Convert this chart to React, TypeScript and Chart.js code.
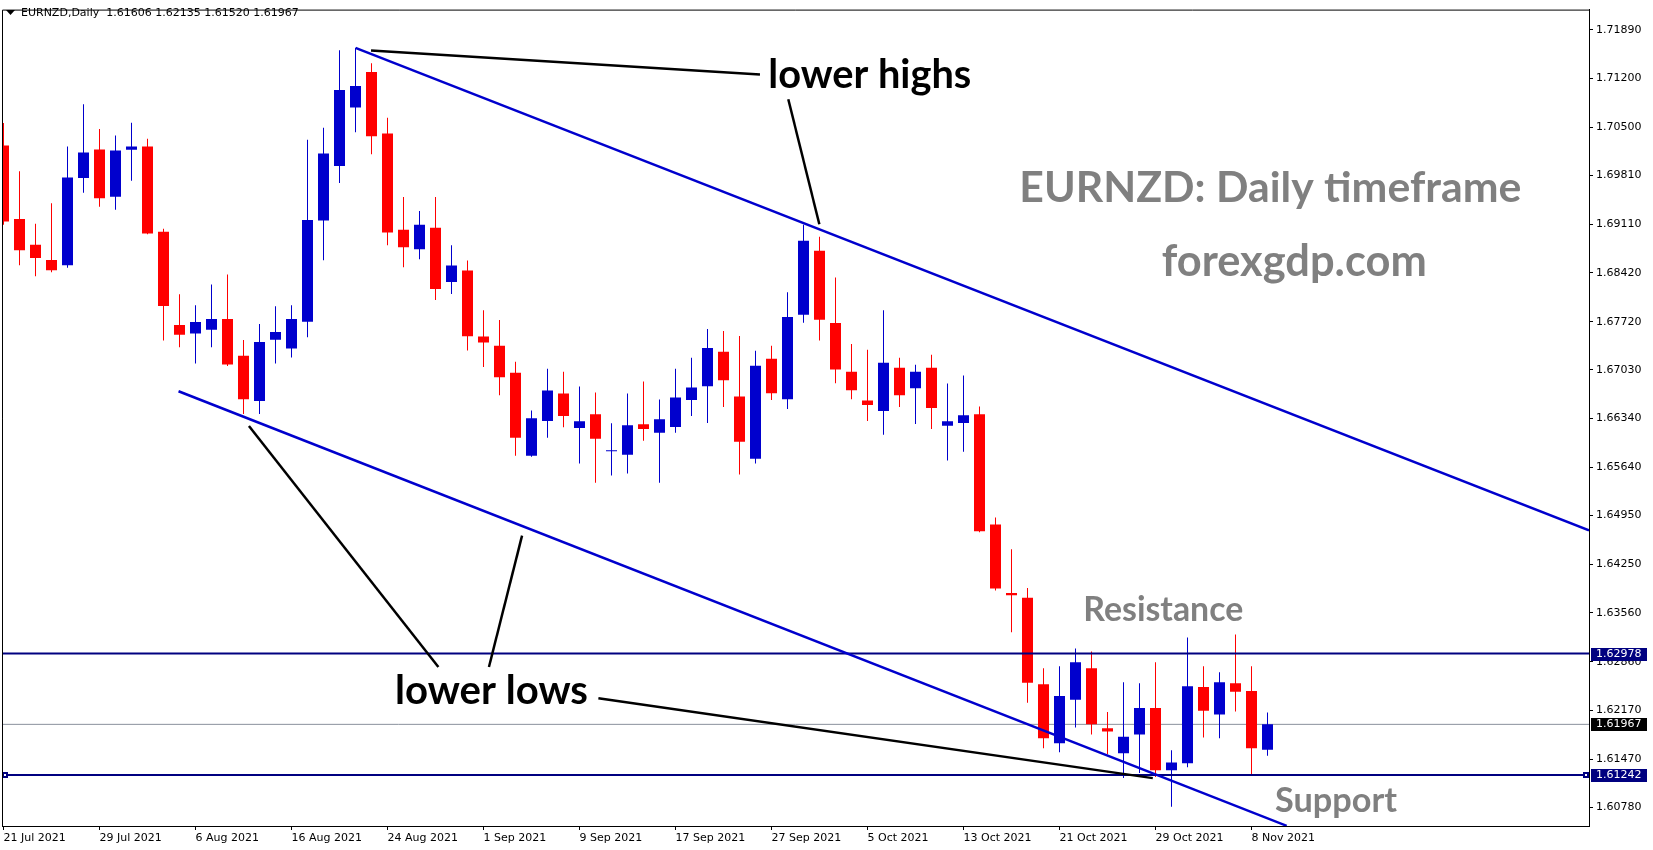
import React, { useEffect, useRef } from "react";
import { Chart, registerables } from "chart.js";

Chart.register(...registerables);

// ---------------- data ----------------
const symbol = "EURNZD";
const timeframe = "Daily";

const dates = [
  "21 Jul 2021", "22 Jul 2021", "23 Jul 2021", "26 Jul 2021", "27 Jul 2021", "28 Jul 2021", "29 Jul 2021", "30 Jul 2021",
  "2 Aug 2021", "3 Aug 2021", "4 Aug 2021", "5 Aug 2021", "6 Aug 2021", "9 Aug 2021", "10 Aug 2021", "11 Aug 2021",
  "12 Aug 2021", "13 Aug 2021", "16 Aug 2021", "17 Aug 2021", "18 Aug 2021", "19 Aug 2021", "20 Aug 2021", "23 Aug 2021",
  "24 Aug 2021", "25 Aug 2021", "26 Aug 2021", "27 Aug 2021", "30 Aug 2021", "31 Aug 2021", "1 Sep 2021", "2 Sep 2021",
  "3 Sep 2021", "6 Sep 2021", "7 Sep 2021", "8 Sep 2021", "9 Sep 2021", "10 Sep 2021", "13 Sep 2021", "14 Sep 2021",
  "15 Sep 2021", "16 Sep 2021", "17 Sep 2021", "20 Sep 2021", "21 Sep 2021", "22 Sep 2021", "23 Sep 2021", "24 Sep 2021",
  "27 Sep 2021", "28 Sep 2021", "29 Sep 2021", "30 Sep 2021", "1 Oct 2021", "4 Oct 2021", "5 Oct 2021", "6 Oct 2021",
  "7 Oct 2021", "8 Oct 2021", "11 Oct 2021", "12 Oct 2021", "13 Oct 2021", "14 Oct 2021", "15 Oct 2021", "18 Oct 2021",
  "19 Oct 2021", "20 Oct 2021", "21 Oct 2021", "22 Oct 2021", "25 Oct 2021", "26 Oct 2021", "27 Oct 2021", "28 Oct 2021",
  "29 Oct 2021", "1 Nov 2021", "2 Nov 2021", "3 Nov 2021", "4 Nov 2021", "5 Nov 2021", "8 Nov 2021", "9 Nov 2021",
];

const openP = [
  1.70236, 1.69188, 1.68819, 1.68602, 1.68526, 1.69773, 1.70180, 1.69504, 1.70175, 1.70222,
  1.69003, 1.67671, 1.67549, 1.67605, 1.67756, 1.67232, 1.66585, 1.67463, 1.67336, 1.67719,
  1.69164, 1.69943, 1.70780, 1.71285, 1.70406, 1.69032, 1.68753, 1.69060, 1.68285, 1.68451,
  1.67506, 1.67374, 1.66991, 1.65805, 1.66301, 1.66694, 1.66202, 1.66396, 1.65867, 1.65820,
  1.66254, 1.66131, 1.66216, 1.66599, 1.66797, 1.67289, 1.66651, 1.65763, 1.67190, 1.66613,
  1.67818, 1.68734, 1.67700, 1.67005, 1.66594, 1.66443, 1.67062, 1.66769, 1.67062, 1.66231,
  1.66273, 1.66396, 1.64823, 1.63845, 1.63774, 1.62541, 1.61696, 1.62319, 1.62768, 1.61913,
  1.61554, 1.61823, 1.62201, 1.61313, 1.61412, 1.62499, 1.62107, 1.62556, 1.62442, 1.61606,
];

const highP = [
  1.70558, 1.69868, 1.69117, 1.69410, 1.70222, 1.70827, 1.70472, 1.70378, 1.70562, 1.70331,
  1.69046, 1.68111, 1.67955, 1.68252, 1.68394, 1.67459, 1.67685, 1.67941, 1.67955, 1.70317,
  1.70491, 1.71597, 1.71630, 1.71412, 1.70633, 1.69499, 1.69301, 1.69499, 1.68810, 1.68592,
  1.67884, 1.67742, 1.67147, 1.66452, 1.67048, 1.67005, 1.66793, 1.66708, 1.66268, 1.66694,
  1.66864, 1.66608, 1.67048, 1.67204, 1.67615, 1.67586, 1.67515, 1.67303, 1.67374, 1.68139,
  1.69103, 1.68933, 1.68352, 1.67402, 1.67317, 1.67884, 1.67204, 1.67104, 1.67246, 1.66835,
  1.66949, 1.66509, 1.64922, 1.64469, 1.63916, 1.62768, 1.62796, 1.63052, 1.63009, 1.62144,
  1.62570, 1.62556, 1.62853, 1.61597, 1.63207, 1.62796, 1.62711, 1.63250, 1.62796, 1.62135,
];

const lowP = [
  1.69103, 1.68526, 1.68370, 1.68427, 1.68489, 1.69561, 1.69362, 1.69320, 1.69731, 1.68970,
  1.67449, 1.67355, 1.67123, 1.67355, 1.67086, 1.66401, 1.66401, 1.67123, 1.67208, 1.67497,
  1.68597, 1.69702, 1.70425, 1.70113, 1.68810, 1.68498, 1.68611, 1.68030, 1.68115, 1.67308,
  1.67071, 1.66670, 1.65805, 1.65790, 1.66060, 1.66212, 1.65692, 1.65418, 1.65522, 1.65550,
  1.66018, 1.65418, 1.66131, 1.66372, 1.66273, 1.66500, 1.65536, 1.65692, 1.66599, 1.66472,
  1.67704, 1.67449, 1.66840, 1.66613, 1.66301, 1.66103, 1.66500, 1.66259, 1.66188, 1.65735,
  1.65862, 1.64710, 1.63878, 1.63283, 1.62277, 1.61625, 1.61568, 1.61922, 1.61823, 1.61540,
  1.61200, 1.61271, 1.61214, 1.60789, 1.61356, 1.61781, 1.61767, 1.62149, 1.61256, 1.61520,
];

const closeP = [
  1.69150, 1.68739, 1.68630, 1.68455, 1.69778, 1.70137, 1.69481, 1.70165, 1.70222, 1.68980,
  1.67945, 1.67534, 1.67714, 1.67756, 1.67109, 1.66613, 1.67430, 1.67572, 1.67756, 1.69173,
  1.70123, 1.71030, 1.71087, 1.70369, 1.68994, 1.68781, 1.69103, 1.68186, 1.68522, 1.67511,
  1.67421, 1.66925, 1.66060, 1.66339, 1.66736, 1.66372, 1.66297, 1.66046, 1.65876, 1.66240,
  1.66188, 1.66325, 1.66637, 1.66779, 1.67345, 1.66882, 1.66004, 1.67090, 1.66698, 1.67785,
  1.68876, 1.67747, 1.67038, 1.66741, 1.66528, 1.67133, 1.66670, 1.67005, 1.66486, 1.66297,
  1.66382, 1.64724, 1.63907, 1.63812, 1.62560, 1.61767, 1.62371, 1.62853, 1.61970, 1.61866,
  1.61790, 1.62201, 1.61313, 1.61422, 1.62513, 1.62163, 1.62570, 1.62433, 1.61625, 1.61967,
];

// axis ticks
const yTickValues = [
  1.71890, 1.71200, 1.70500, 1.69810, 1.69110, 1.68420, 1.67720, 1.67030, 1.66340,
  1.65640, 1.64950, 1.64250, 1.63560, 1.62860, 1.62170, 1.61470, 1.60780,
];
const xTickIndex = [0, 6, 12, 18, 24, 30, 36, 42, 48, 54, 60, 66, 72, 78];

// horizontal levels
const resistanceLevel = 1.62978;
const supportLevel = 1.61242;
const bidLevel = 1.61967;

// channel trend lines (bar index, price)
const upperChannel = [
  { x: 22, y: 1.71630 },
  { x: 99.09, y: 1.64738 },
];
const lowerChannel = [
  { x: 10.94, y: 1.66726 },
  { x: 80.2, y: 1.60518 },
];

// pointer lines (bar index, price)
const pointerHighs1 = [{ x: 22.97, y: 1.71592 }, { x: 47.28, y: 1.71252 }];
const pointerHighs2 = [{ x: 49.05, y: 1.70898 }, { x: 50.99, y: 1.69112 }];
const pointerLows1 = [{ x: 15.34, y: 1.66230 }, { x: 27.18, y: 1.62787 }];
const pointerLows2 = [{ x: 32.41, y: 1.64663 }, { x: 30.34, y: 1.62787 }];
const pointerLows3 = [{ x: 37.18, y: 1.62339 }, { x: 71.83, y: 1.61199 }];

// text notes (left x in bar index, baseline in price)
const noteTexts = ["lower highs", "lower lows", "EURNZD: Daily timeframe", "forexgdp.com", "Resistance", "Support"];
const noteX = [47.80, 24.47, 63.49, 72.39, 67.49, 79.47];
const noteY = [1.71062, 1.62262, 1.69433, 1.68370, 1.63444, 1.60718];

// ---------------- style / layout ----------------
const W = 1653;
const H = 850;
const X_MIN = -0.09375;
const X_MAX = 99.09375;
const Y_MIN = 1.60515;
const Y_MAX = 1.721777;
const BULL = "#0000CD";
const BEAR = "#FF0000";
const NAVY = "#000080";
const AXIS_FONT = { family: "'DejaVu Sans', Tahoma, sans-serif", size: 11 };
const CANVAS_AXIS_FONT = '11px "DejaVu Sans", sans-serif';
const NOTE_WIDTHS = [203, 193, 502, 265, 160, 122];
const NOTE_COLORS = ["#000000", "#000000", "#808080", "#808080", "#808080", "#808080"];

function lineDs(points: { x: number; y: number }[], color: string, width: number, order: number) {
  return {
    type: "line" as const,
    data: points,
    borderColor: color,
    backgroundColor: color,
    borderWidth: width,
    pointRadius: 0,
    fill: false,
    tension: 0,
    order,
  };
}

const decorPlugin = {
  id: "decor",
  afterDatasetsDraw(chart: any) {
    const { ctx, chartArea, scales } = chart;
    const xs = scales.x;
    const ys = scales.y;
    ctx.save();
    // support line end markers
    const sy = Math.round(ys.getPixelForValue(supportLevel));
    const markerXs = [chartArea.left + 3, chartArea.right - 3];
    for (const mx of markerXs) {
      ctx.fillStyle = NAVY;
      ctx.fillRect(mx - 3, sy - 3, 6, 6);
      ctx.fillStyle = "#fff";
      ctx.fillRect(mx - 1, sy - 1, 2, 2);
    }
    // notes
    for (let i = 0; i < noteTexts.length; i++) {
      const text = noteTexts[i];
      ctx.font = "bold 40px Lato, 'Open Sans', sans-serif";
      const w0 = ctx.measureText(text).width;
      const size = (40 * NOTE_WIDTHS[i]) / w0;
      ctx.font = `bold ${size.toFixed(2)}px Lato, 'Open Sans', sans-serif`;
      ctx.fillStyle = NOTE_COLORS[i];
      ctx.textAlign = "left";
      ctx.textBaseline = "alphabetic";
      ctx.fillText(text, xs.getPixelForValue(noteX[i]), ys.getPixelForValue(noteY[i]));
    }
    ctx.restore();
  },
  afterDraw(chart: any) {
    const { ctx, chartArea, scales } = chart;
    const ys = scales.y;
    ctx.save();
    // left / top frame
    ctx.strokeStyle = "#000";
    ctx.lineWidth = 1;
    ctx.beginPath();
    ctx.moveTo(chartArea.left + 0.5, chartArea.bottom);
    ctx.lineTo(chartArea.left + 0.5, chartArea.top + 0.5);
    ctx.lineTo(chartArea.right, chartArea.top + 0.5);
    ctx.stroke();

    // title
    ctx.fillStyle = "#000";
    ctx.beginPath();
    ctx.moveTo(6, 10);
    ctx.lineTo(15, 10);
    ctx.lineTo(10.5, 15);
    ctx.closePath();
    ctx.fill();
    const last = closeP.length - 1;
    const title = `${symbol},${timeframe}  ${openP[last].toFixed(5)} ${highP[last].toFixed(5)} ${lowP[last].toFixed(5)} ${closeP[last].toFixed(5)}`;
    ctx.font = CANVAS_AXIS_FONT;
    ctx.textAlign = "left";
    ctx.textBaseline = "middle";
    ctx.fillText(title, 21, 13);

    // price labels on the axis
    const boxes = [
      { v: resistanceLevel, bg: NAVY },
      { v: bidLevel, bg: "#000000" },
      { v: supportLevel, bg: NAVY },
    ];
    for (const b of boxes) {
      const y = Math.round(ys.getPixelForValue(b.v));
      ctx.fillStyle = b.bg;
      ctx.fillRect(chartArea.right + 2, y - 6, 56, 13);
      ctx.fillStyle = "#fff";
      ctx.font = CANVAS_AXIS_FONT;
      ctx.textBaseline = "middle";
      ctx.fillText(b.v.toFixed(5), chartArea.right + 7, y + 0.5);
    }
    ctx.restore();
  },
};

export default function App() {
  const ref = useRef<HTMLCanvasElement>(null);

  useEffect(() => {
    if (!ref.current) return;
    const colors = closeP.map((c, i) => (c >= openP[i] ? BULL : BEAR));
    const bodies = openP.map((o, i) => ({ x: i, y: [o, closeP[i]] }));
    const wicks = lowP.map((l, i) => ({ x: i, y: [l, highP[i]] }));

    const config: any = {
      type: "bar",
      data: {
        datasets: [
          lineDs(upperChannel, BULL, 2.5, 1),
          lineDs(lowerChannel, BULL, 2.5, 1),
          lineDs([{ x: X_MIN, y: resistanceLevel }, { x: X_MAX, y: resistanceLevel }], NAVY, 2, 2),
          lineDs([{ x: X_MIN, y: supportLevel }, { x: X_MAX, y: supportLevel }], NAVY, 2, 2),
          lineDs(pointerHighs1, "#000", 2.5, 0),
          lineDs(pointerHighs2, "#000", 2.5, 0),
          lineDs(pointerLows1, "#000", 2.5, 0),
          lineDs(pointerLows2, "#000", 2.5, 0),
          lineDs(pointerLows3, "#000", 2.5, 0),
          {
            type: "bar",
            data: bodies,
            backgroundColor: colors,
            borderWidth: 0,
            barThickness: 11,
            grouped: false,
            minBarLength: 1,
            inflateAmount: 0,
            order: 10,
          },
          {
            type: "bar",
            data: wicks,
            backgroundColor: colors,
            borderWidth: 0,
            barThickness: 1,
            grouped: false,
            minBarLength: 1,
            inflateAmount: 0,
            order: 11,
          },
          lineDs([{ x: X_MIN, y: bidLevel }, { x: X_MAX, y: bidLevel }], "#8a919c", 1, 20),
        ],
      },
      options: {
        animation: false,
        responsive: false,
        devicePixelRatio: 1,
        events: [],
        layout: { padding: { left: 2, top: 3, right: 0, bottom: 0 } },
        plugins: {
          legend: { display: false },
          tooltip: { enabled: false },
          title: { display: false },
        },
        scales: {
          x: {
            type: "linear",
            min: X_MIN,
            max: X_MAX,
            offset: false,
            grid: { display: true, drawOnChartArea: false, drawTicks: true, tickLength: 4, color: "#000", offset: false },
            border: { display: true, color: "#000", width: 1 },
            ticks: {
              autoSkip: false,
              maxRotation: 0,
              minRotation: 0,
              align: "start",
              padding: 2,
              color: "#000",
              font: AXIS_FONT,
              callback: (_v: any, i: number) => dates[xTickIndex[i]] ?? "",
            },
            afterBuildTicks: (s: any) => {
              s.ticks = xTickIndex.map((v) => ({ value: v }));
            },
            afterFit: (s: any) => {
              s.height = 24;
            },
          },
          y: {
            type: "linear",
            position: "right",
            min: Y_MIN,
            max: Y_MAX,
            beginAtZero: false,
            grid: { display: true, drawOnChartArea: false, drawTicks: true, tickLength: 4, color: "#000" },
            border: { display: true, color: "#000", width: 1 },
            ticks: {
              autoSkip: false,
              padding: 3,
              color: "#000",
              font: AXIS_FONT,
              callback: (v: any) => Number(v).toFixed(5),
            },
            afterBuildTicks: (s: any) => {
              s.ticks = yTickValues.map((v) => ({ value: v }));
            },
            afterFit: (s: any) => {
              s.width = 64;
            },
          },
        },
      },
      plugins: [decorPlugin],
    };

    const chart = new Chart(ref.current, config);
    return () => chart.destroy();
  }, []);

  return (
    <div style={{ position: "fixed", left: 0, top: 0, width: W, height: H, background: "#fff" }}>
      <canvas ref={ref} width={W} height={H} style={{ display: "block", width: W, height: H }} />
    </div>
  );
}
